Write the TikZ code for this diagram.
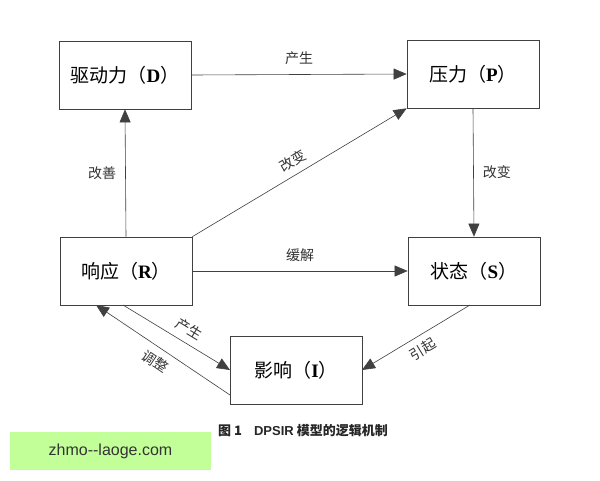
\documentclass[tikz,border=0pt]{standalone}
\usepackage{fontspec}
\setmainfont{Liberation Serif}
\newfontfamily\cjk{Noto Sans CJK SC}
\newfontfamily\lsans{Liberation Sans}
\usetikzlibrary{arrows.meta}
\begin{document}
\begin{tikzpicture}[x=1pt,y=-1pt,
  box/.style={draw=black!75,line width=0.7pt,minimum width=132pt,minimum height=68pt,font=\fontsize{19}{22}\selectfont},
  arr/.style={draw=black!75,line width=0.6pt,-{Triangle[length=13pt,width=11pt]}},
  lab/.style={font=\cjk\fontsize{14}{16}\selectfont,text=black!80,inner sep=1pt}]
\useasboundingbox (0,0) rectangle (600,480);
\fill[white] (0,0) rectangle (600,480);
\node[box] (D) at (125,75) {{\cjk 驱动力（}\textbf{D}{\cjk ）}};
\node[box] (P) at (473,74) {{\cjk 压力（}\textbf{P}{\cjk ）}};
\node[box] (R) at (126,271) {{\cjk 响应（}\textbf{R}{\cjk ）}};
\node[box] (S) at (474,271) {{\cjk 状态（}\textbf{S}{\cjk ）}};
\node[box] (I) at (296,370) {{\cjk 影响（}\textbf{I}{\cjk ）}};
\draw[arr] (D.east) -- (P.west) node[lab,midway,above=8pt] {产生};
\draw[arr] (P.south) -- (S.north) node[lab,midway,right=8pt] {改变};
\draw[arr] (R.north) -- (D.south) node[lab,midway,left=8pt] {改善};
\draw[arr] (R.north east) -- (P.south west) node[lab,midway,above=6pt,sloped] {改变};
\draw[arr] (R.east) -- (S.west) node[lab,midway,above=8pt] {缓解};
\coordinate (s1) at (470,305);
\coordinate (i1) at (362,370);
\draw[arr] (s1) -- (i1) node[lab,midway,below=6pt,sloped] {引起};
\coordinate (r1) at (123,305);
\coordinate (i2) at (230,370);
\draw[arr] (r1) -- (i2) node[lab,pos=0.55,above=6pt,sloped] {产生};
\coordinate (i3) at (230,395);
\coordinate (r2) at (96,305);
\draw[arr] (i3) -- (r2) node[lab,pos=0.5,below=6pt,sloped] {调整};
\node[font=\cjk\bfseries\fontsize{13}{15}\selectfont,text=black!85] (cap) at (303,431) {图 1\hspace{12pt}{\lsans DPSIR} 模型的逻辑机制};
\node[fill=green!45!lime!40,minimum width=201pt,minimum height=38pt,inner sep=0pt,font=\lsans\fontsize{16}{18}\selectfont,text=black!80] (wm) at (110.5,451) {zhmo-{}-laoge.com};
\end{tikzpicture}
\end{document}
